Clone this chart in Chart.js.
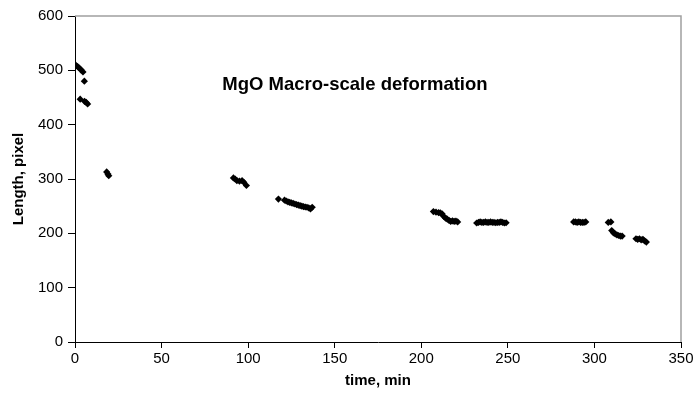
<!DOCTYPE html>
<html><head><meta charset="utf-8">
<script src="https://cdn.jsdelivr.net/npm/chart.js@4"></script>
<style>html,body{margin:0;padding:0;background:#fff}canvas{display:block}</style>
</head><body>
<canvas id="c" width="696" height="403"></canvas>
<script>
const chartTitle = 'MgO Macro-scale deformation';
const xAxisTitle = 'time, min';
const yAxisTitle = 'Length, pixel';
const xTicks = [0, 50, 100, 150, 200, 250, 300, 350];
const yTicks = [0, 100, 200, 300, 400, 500, 600];

const timeMin = [
  0.6, 1.5, 2.5, 3.5, 4.6, 5.4, 3.0, 5.5, 6.5, 7.3, 18.3, 19.0, 19.5,
  91.5, 92.5, 93.5, 95.0, 96.5, 97.5, 99.0,
  117.5, 121, 122, 123, 124, 125, 126, 127, 128, 129, 130, 131, 132, 133, 134, 135, 136, 137,
  207, 208.5, 210, 211, 212, 213, 214, 215, 216, 217, 218, 219, 220, 221,
  232, 233, 234, 235, 236, 237, 238, 239, 240, 241, 242, 243, 244, 245, 246, 247, 248, 249,
  288, 289, 290, 291, 292, 293, 294, 295,
  308, 309.5, 310, 311, 312, 313, 314, 315, 316,
  324, 325, 326, 327, 328, 329, 330
];
const lengthPx = [
  509, 507, 504, 501, 497, 480, 447, 443, 441, 438, 313, 309, 306,
  302, 300, 297, 296, 297, 294, 288,
  263, 261, 259.5, 258, 257, 256, 255, 254, 253, 252, 251, 250, 249, 248.5, 248, 247, 245, 248,
  240, 239, 238, 237.5, 236, 231, 228, 226, 224, 222, 223, 222, 222.5, 221,
  219, 220, 221, 220, 220, 221, 220, 220, 221, 220, 220, 219.5, 220, 220, 221, 220, 219, 219.5,
  221, 221, 220, 221, 220, 220, 220, 221,
  220, 221, 205, 201, 199, 197, 196, 195, 195,
  190, 189, 190, 188, 189, 186, 184
];

const points = timeMin.map((t, i) => ({ x: t, y: lengthPx[i] }));
const FONT = "'Liberation Sans', Arial, sans-serif";

const framePlugin = {
  id: 'frame',
  afterDatasetsDraw(chart) {
    const { ctx, chartArea: a } = chart;
    ctx.save();
    ctx.strokeStyle = '#a0a0a0';
    ctx.lineWidth = 1.5;
    ctx.beginPath();
    ctx.moveTo(a.left, a.top);
    ctx.lineTo(a.right, a.top);
    ctx.lineTo(a.right, a.bottom);
    ctx.stroke();
    ctx.fillStyle = '#000';
    ctx.font = "bold 18.5px " + FONT;
    ctx.textAlign = 'center';
    ctx.textBaseline = 'middle';
    ctx.fillText(chartTitle, a.left + 0.462 * a.width, a.top + 0.212 * a.height);
    ctx.restore();
  }
};

new Chart(document.getElementById('c'), {
  type: 'scatter',
  data: {
    datasets: [{
      data: points,
      pointStyle: 'rectRot',
      radius: 3.6,
      hoverRadius: 3.6,
      backgroundColor: '#000',
      borderColor: '#000',
      borderWidth: 0
    }]
  },
  options: {
    responsive: false,
    animation: false,
    events: [],
    layout: { padding: { top: 16, right: 15, left: 0, bottom: 0 } },
    plugins: { legend: { display: false }, tooltip: { enabled: false }, title: { display: false } },
    scales: {
      x: {
        type: 'linear', min: 0, max: 350,
        afterBuildTicks: s => { s.ticks = xTicks.map(v => ({ value: v })); },
        afterFit: s => { s.height = 61; },
        border: { display: true, color: '#000', width: 1 },
        grid: { drawOnChartArea: false, drawTicks: true, tickLength: 6, color: '#000' },
        ticks: { color: '#000', font: { family: FONT, size: 15 }, padding: 2, maxRotation: 0 },
        title: { display: true, text: xAxisTitle, color: '#000', font: { family: FONT, size: 15, weight: 'bold' }, padding: { top: 0, bottom: 13 } }
      },
      y: {
        type: 'linear', min: 0, max: 600,
        afterBuildTicks: s => { s.ticks = yTicks.map(v => ({ value: v })); },
        afterFit: s => { s.width = 75; },
        border: { display: true, color: '#000', width: 1 },
        grid: { drawOnChartArea: false, drawTicks: true, tickLength: 7, color: '#000' },
        ticks: { color: '#000', font: { family: FONT, size: 15 }, padding: 5 },
        title: { display: true, text: yAxisTitle, color: '#000', font: { family: FONT, size: 15, weight: 'bold' }, padding: { top: 10, bottom: 0 } }
      }
    }
  },
  plugins: [framePlugin]
});
</script>
</body></html>
